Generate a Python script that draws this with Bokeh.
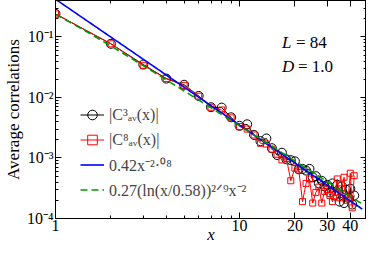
import numpy as np
from bokeh.plotting import figure
from bokeh.models import Range1d, FixedTicker, LogAxis, Legend, LegendItem, Label, CustomJSTickFormatter
from bokeh.embed import file_html
from bokeh.resources import INLINE

# ---------------- data ----------------
x_vals = list(range(1, 43))
c3_vals = [0.24, 0.077, 0.035, 0.0205, 0.0162, 0.0106, 0.0069, 0.0068, 0.0047, 0.0034,
           0.0036, 0.0024, 0.0019, 0.0021, 0.00145, 0.00112, 0.00122, 0.00095, 0.00092, 0.00088,
           0.00065, 0.00066, 0.00062, 0.00066, 0.00048, 0.00050, 0.00038, 0.00042, 0.00034, 0.00036,
           0.00027, 0.00038, 0.00024, 0.00036, 0.00019, 0.00034, 0.00018, 0.00030, 0.00022, 0.00031,
           0.00017, 0.00024]
c8_vals = [0.24, 0.077, 0.034, 0.0205, 0.0158, 0.0105, 0.0069, 0.0062, 0.0046, 0.0033,
           0.0030, 0.0024, 0.00175, 0.0017, 0.0014, 0.00115, 0.00093, 0.00098, 0.00042, 0.00068,
           0.00063, 0.00019, 0.00038, 0.00045, 0.00018, 0.00027, 0.00033, 0.00018, 0.00028, 0.00030,
           0.00024, 0.00019, 0.00027, 0.00045, 0.00022, 0.00031, 0.00048, 0.00020, 0.00022, 0.00056,
           0.00015, 0.00051]

# fit parameters
pow_amp, pow_exp = 0.42, -2.08
log_amp, log_scale, log_pow = 0.27, 0.58, 2.0 / 9.0
fit_xmin, fit_xmax = 1.0, 46.5

x_major = [1, 10, 20, 30, 40]
x_minor = [2, 3, 4, 5, 6, 7, 8, 9]
x_tick_labels = {1: "1", 10: "10", 20: "20", 30: "30", 40: "40"}
y_major = [1e-4, 1e-3, 1e-2, 1e-1]
y_tick_labels = {1e-4: "10⁻⁴", 1e-3: "10⁻³", 1e-2: "10⁻²", 1e-1: "10⁻¹"}
y_minor = [k * d for d in [1e-4, 1e-3, 1e-2, 1e-1] for k in range(2, 10)]

labels = ["|C³ₐᵥ(x)|", "|C⁸ₐᵥ(x)|", "0.42x⁻²·⁰⁸", "0.27(ln(x/0.58))²ᐟ⁹x⁻²"]

fit_x = np.geomspace(fit_xmin, fit_xmax, 200)
fit_pow = pow_amp * fit_x ** pow_exp
fit_log = log_amp * np.log(fit_x / log_scale) ** log_pow * fit_x ** -2.0

SERIF = "Liberation Serif"

p = figure(width=366, height=246, x_axis_type="log", y_axis_type="log",
           x_range=Range1d(1, 49), y_range=Range1d(1e-4, 0.4),
           output_backend="svg", toolbar_location=None,
           min_border_left=50, min_border_right=0, min_border_top=0, min_border_bottom=28)
p.xgrid.visible = False
p.ygrid.visible = False
p.outline_line_color = "black"
p.outline_line_width = 1
p.background_fill_color = "white"
p.border_fill_color = "white"

xt = FixedTicker(ticks=x_major, minor_ticks=x_minor)
yt = FixedTicker(ticks=y_major, minor_ticks=y_minor)

for ax, t, lab in [(p.xaxis[0], xt, x_tick_labels), (p.yaxis[0], yt, y_tick_labels)]:
    ax.ticker = t
    ax.major_label_overrides = lab
    ax.major_tick_in = 6
    ax.major_tick_out = 0
    ax.minor_tick_in = 3
    ax.minor_tick_out = 0
    ax.axis_line_color = "black"
    ax.major_label_text_font = SERIF
    ax.major_label_text_font_size = "16px"
    ax.major_label_text_color = "black"
    ax.axis_label_text_font = SERIF
    ax.axis_label_text_font_size = "17px"
    ax.axis_label_text_color = "black"
    ax.major_label_standoff = 2

p.xaxis.axis_label = "x"
p.xaxis.axis_label_text_font_style = "italic"
p.xaxis.axis_label_standoff = -9
p.xaxis.major_label_standoff = 1
p.yaxis.axis_label = "Average correlations"
p.yaxis.axis_label_text_font_style = "normal"
p.yaxis.axis_label_standoff = 1

blank = CustomJSTickFormatter(code="return ''")
for loc, t in [("above", xt), ("right", yt)]:
    ax = LogAxis(ticker=t, formatter=blank, major_tick_in=6, major_tick_out=0,
                 minor_tick_in=3, minor_tick_out=0, major_label_standoff=0,
                 major_label_text_font_size="1px", axis_line_color="black")
    p.add_layout(ax, loc)

# data
l3 = p.line(x_vals, c3_vals, line_color="black", line_width=1)
s3 = p.scatter(x_vals, c3_vals, marker="circle", size=9, fill_color=None, line_color="black", line_width=1)
l8 = p.line(x_vals, c8_vals, line_color="#ff0000", line_width=1)
s8 = p.scatter(x_vals, c8_vals, marker="square", size=6, fill_color=None, line_color="#ff0000", line_width=1)
bl = p.line(fit_x, fit_pow, line_color="#0000ff", line_width=1.6)
gl = p.line(fit_x, fit_log, line_color="#009900", line_width=1.6, line_dash="7 4")

legend = Legend(items=[LegendItem(label=labels[0], renderers=[l3, s3]),
                       LegendItem(label=labels[1], renderers=[l8, s8]),
                       LegendItem(label=labels[2], renderers=[bl]),
                       LegendItem(label=labels[3], renderers=[gl])],
                location=(25, 16), border_line_color=None, background_fill_alpha=0,
                label_text_font=SERIF, label_text_font_size="16px", glyph_width=24, glyph_height=25,
                label_height=25, label_standoff=5, spacing=0, padding=0, margin=0)
p.add_layout(legend)

for txt, style, xo, yv in [("L", "italic", 0, 0.08), ("= 84", "normal", 14, 0.08),
                           ("D", "italic", 0, 0.032), ("= 1.0", "normal", 16, 0.032)]:
    p.add_layout(Label(x=17, y=yv, x_offset=xo, text=txt, text_font=SERIF, text_font_style=style,
                       text_font_size="17px", text_baseline="middle", text_color="black"))

open("out.html", "w").write(file_html(p, INLINE))
